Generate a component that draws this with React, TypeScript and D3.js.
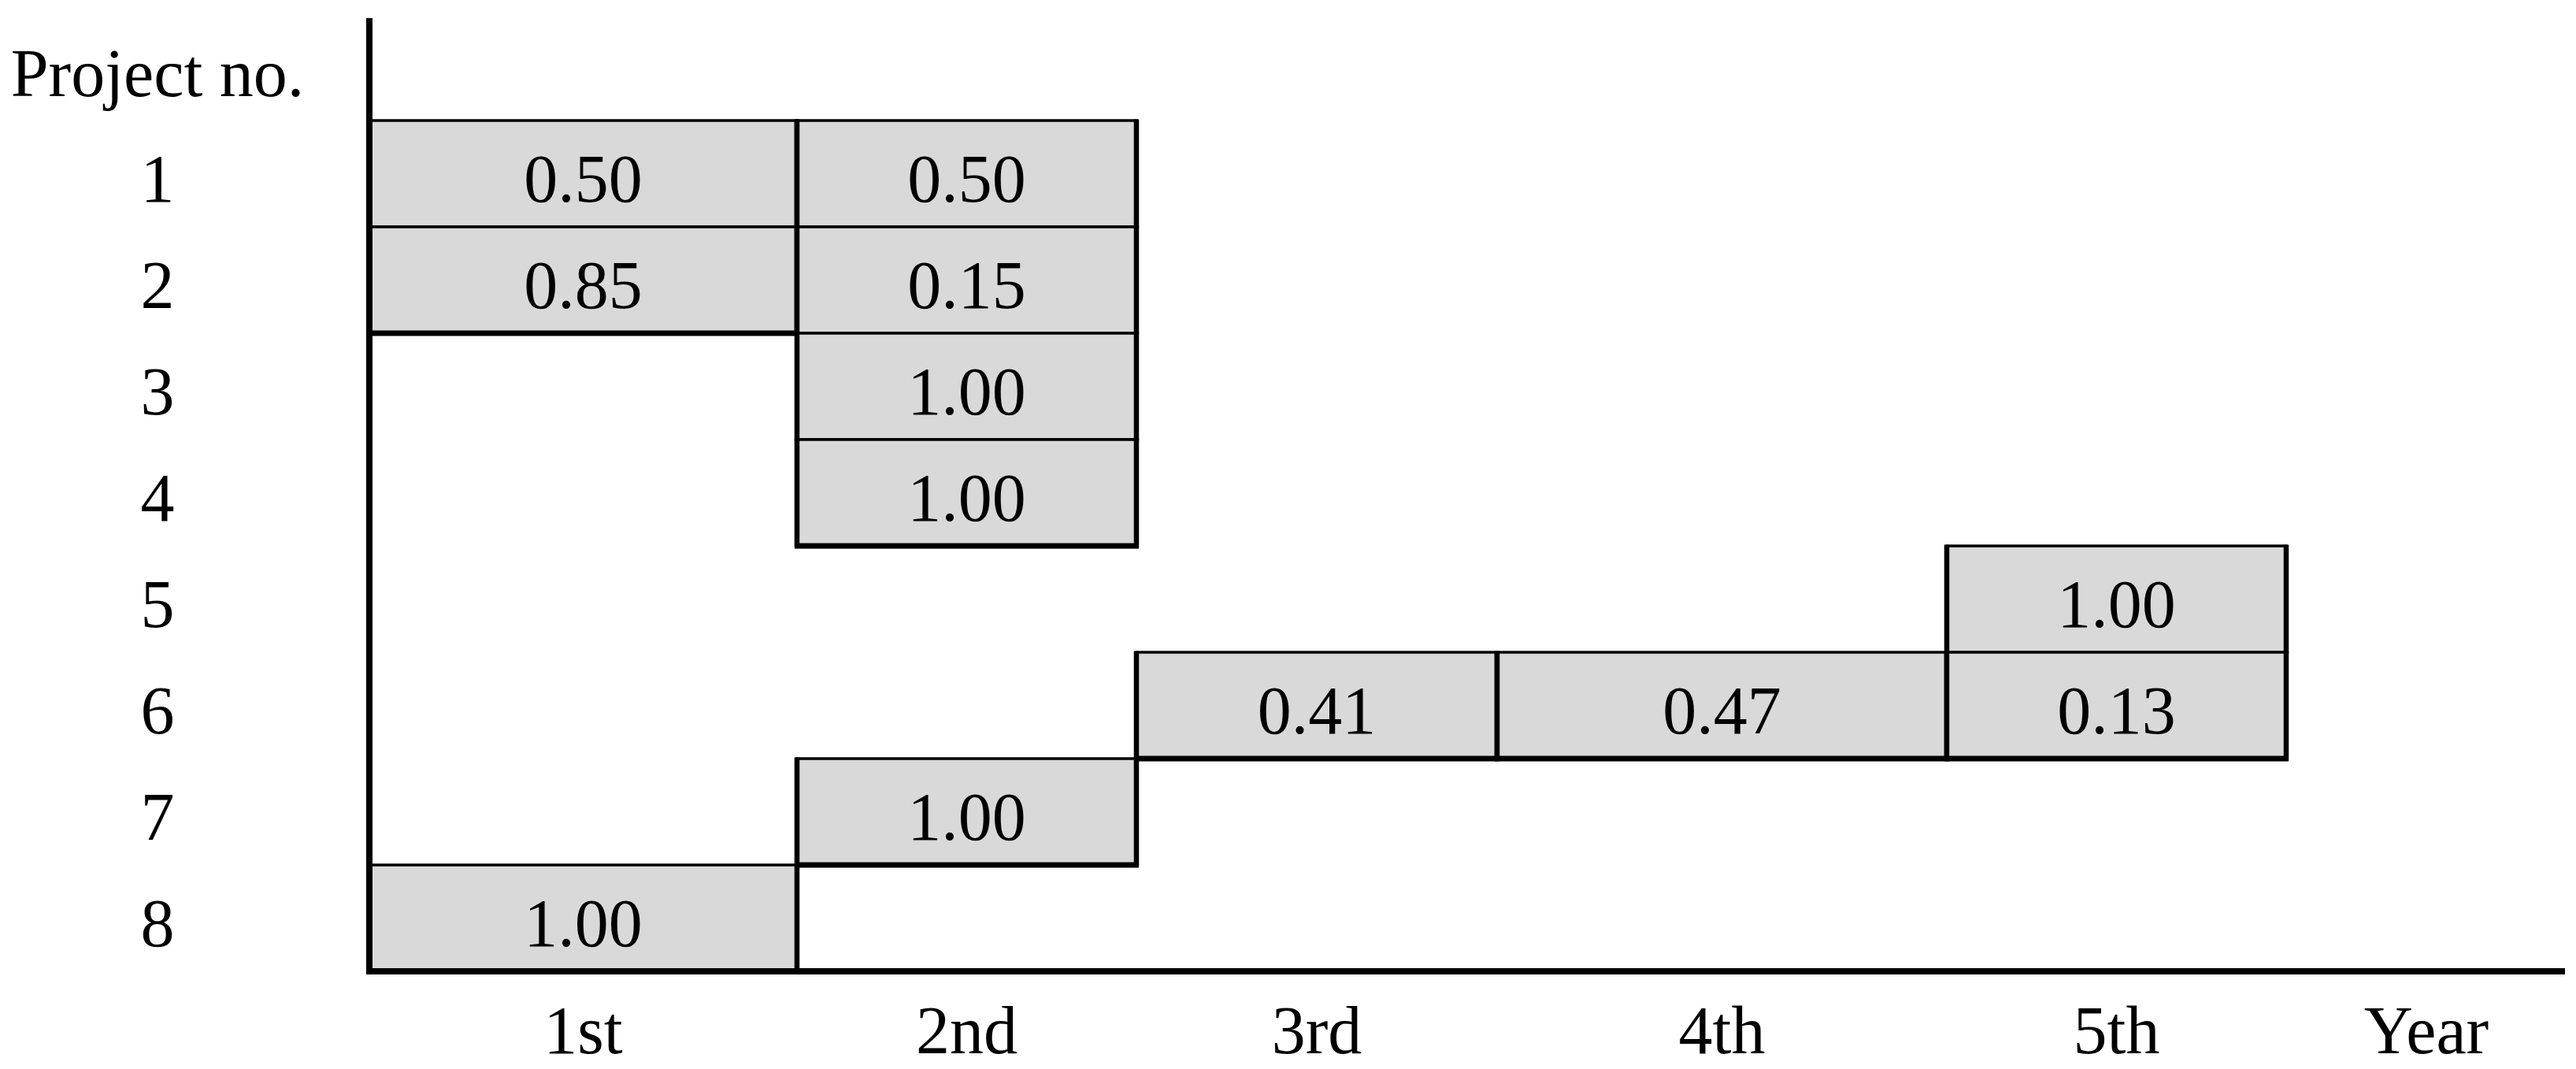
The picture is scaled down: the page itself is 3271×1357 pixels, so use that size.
import React from "react";
import * as d3 from "d3";

// ---- data ----
const projects = ["1", "2", "3", "4", "5", "6", "7", "8"];
const years = ["1st", "2nd", "3rd", "4th", "5th"];
// share of each project's investment per year (null = none)
const allocation: (number | null)[][] = [
  [0.5, 0.5, null, null, null],
  [0.85, 0.15, null, null, null],
  [null, 1.0, null, null, null],
  [null, 1.0, null, null, null],
  [null, null, null, null, 1.0],
  [null, null, 0.41, 0.47, 0.13],
  [null, 1.0, null, null, null],
  [1.0, null, null, null, null],
];
const yAxisTitle = "Project no.";
const xAxisTitle = "Year";

// ---- layout ----
const W = 3271;
const H = 1357;
const FONT = "'Liberation Serif', 'Times New Roman', serif";
const FS = 86;

export default function App() {
  // year boundaries (piecewise scale, column widths differ in the original figure)
  const x = d3
    .scaleLinear()
    .domain(d3.range(years.length + 1))
    .range([469, 1012, 1443, 1901, 2472, 2903]);
  const y = d3.scaleBand().domain(projects).range([153, 1233]).padding(0);

  const cells: { p: number; yr: number; v: number }[] = [];
  allocation.forEach((row, p) =>
    row.forEach((v, yr) => {
      if (v !== null) cells.push({ p, yr, v });
    })
  );
  const has = (p: number, yr: number) =>
    p >= 0 && p < allocation.length && allocation[p][yr] !== null;

  const axisX0 = x(0);
  const axisY = y.range()[1];

  return (
    <svg
      width={W}
      height={H}
      style={{ position: "absolute", left: 0, top: 0, background: "#fff" }}
      fontFamily={FONT}
    >
      <rect x={0} y={0} width={W} height={H} fill="#fff" />
      {/* cells */}
      {cells.map((c, i) => {
        const x0 = x(c.yr);
        const x1 = x(c.yr + 1);
        const y0 = y(projects[c.p])!;
        const y1 = y0 + y.bandwidth();
        return (
          <g key={i}>
            <rect
              x={x0}
              y={y0}
              width={x1 - x0}
              height={y1 - y0}
              fill="#d9d9d9"
              stroke="#000"
              strokeWidth={3.5}
            />
            <line x1={x0} x2={x0} y1={y0 - 1.5} y2={y1 + 1.5} stroke="#000" strokeWidth={6.5} />
            <line x1={x1} x2={x1} y1={y0 - 1.5} y2={y1 + 1.5} stroke="#000" strokeWidth={6.5} />
            {!has(c.p + 1, c.yr) && (
              <line x1={x0 - 3} x2={x1 + 3} y1={y1} y2={y1} stroke="#000" strokeWidth={7} />
            )}
            <text
              x={(x0 + x1) / 2}
              y={(y0 + y1) / 2}
              dy="0.41em"
              textAnchor="middle"
              fontSize={FS}
              fill="#000"
            >
              {d3.format(".2f")(c.v)}
            </text>
          </g>
        );
      })}

      {/* axes */}
      <line x1={axisX0} x2={axisX0} y1={23} y2={axisY + 4} stroke="#000" strokeWidth={8} />
      <line x1={axisX0 - 4} x2={3257} y1={axisY} y2={axisY} stroke="#000" strokeWidth={8} />

      {/* y labels */}
      <text x={200} y={122} textAnchor="middle" fontSize={FS} fill="#000">
        {yAxisTitle}
      </text>
      {projects.map((p) => (
        <text
          key={p}
          x={200}
          y={y(p)! + y.bandwidth() / 2}
          dy="0.41em"
          textAnchor="middle"
          fontSize={FS}
          fill="#000"
        >
          {p}
        </text>
      ))}

      {/* x labels */}
      {years.map((yr, i) => (
        <text
          key={yr}
          x={(x(i) + x(i + 1)) / 2}
          y={1337}
          textAnchor="middle"
          fontSize={FS}
          fill="#000"
        >
          {yr}
        </text>
      ))}
      <text x={3081} y={1337} textAnchor="middle" fontSize={FS} fill="#000">
        {xAxisTitle}
      </text>
    </svg>
  );
}
